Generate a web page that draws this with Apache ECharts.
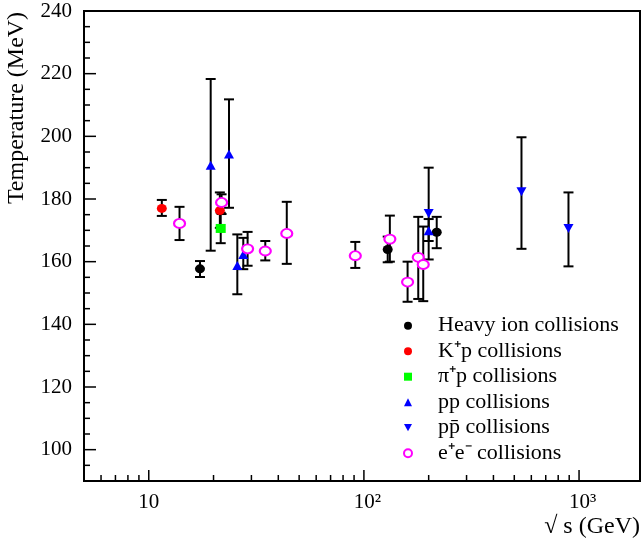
<!DOCTYPE html>
<html>
<head>
<meta charset="utf-8">
<title>Temperature vs sqrt(s)</title>
<script src="https://cdn.jsdelivr.net/npm/echarts@6/dist/echarts.min.js"></script>
<style>
  html, body { margin: 0; padding: 0; background: #fff; }
  #chart { width: 642px; height: 541px; }
</style>
</head>
<body>
<div id="chart"></div>
<script>
// sqrt(s) in GeV, T in MeV, lo/hi = ends of the error bar
var heavyIonS = [17.3, 129, 218]
var heavyIonT = [157.7, 163.9, 169.4]
var heavyIonLo = [155.1, 159.8, 164.3]
var heavyIonHi = [160.2, 168.0, 174.3]

var kpS = [11.5, 21.4]
var kpT = [177.0, 176.3]
var kpLo = [174.6, 170.8]
var kpHi = [179.7, 182.1]

var pipS = [21.6]
var pipT = [170.6]
var pipLo = [165.9]
var pipHi = [175.6]

var ppS = [19.4, 23.6, 25.8, 27.5, 200]
var ppT = [190.8, 194.4, 158.8, 162.3, 169.9]
var ppLo = [163.5, 177.2, 149.6, 157.6, 166.6]
var ppHi = [218.3, 211.8, 168.7, 167.6, 173.6]

var ppbarS = [200, 540, 893]
var ppbarT = [175.4, 182.3, 170.6]
var ppbarLo = [160.7, 164.1, 158.5]
var ppbarHi = [190.0, 199.7, 182.1]

var eeS = [13.9, 21.8, 28.8, 34.8, 43.8, 91.2, 132, 159.6, 178.9, 188.7]
var eeT = [172.2, 178.9, 164.1, 163.4, 169.0, 161.9, 167.2, 153.5, 161.4, 159.1]
var eeLo = [166.9, 175.2, 158.7, 160.4, 159.3, 158.0, 160.0, 147.2, 148.1, 147.4]
var eeHi = [177.5, 181.5, 169.5, 166.6, 179.1, 166.3, 174.7, 160.0, 174.3, 171.2]

var xMin = 5, xMax = 1920
var yMin = 90, yMax = 240
var xMajorTicks = [10, 100, 1000]
var xTickLabels = ['10', '10²', '10³']
var xMinorTicks = [6, 7, 8, 9, 20, 30, 40, 50, 60, 70, 80, 90, 200, 300, 400, 500, 600, 700, 800, 900]
var yMajorTicks = [100, 120, 140, 160, 180, 200, 220, 240]
var yMinorTicks = [95, 105, 110, 115, 125, 130, 135, 145, 150, 155, 165, 170, 175, 185, 190, 195,
  205, 210, 215, 225, 230, 235]

var FONT = 'Liberation Serif'

var groups = [
  { name: 'Heavy ion collisions', s: heavyIonS, t: heavyIonT, lo: heavyIonLo, hi: heavyIonHi,
    symbol: 'circle', size: [10, 9], color: '#000000' },
  { name: 'K⁺p collisions', s: kpS, t: kpT, lo: kpLo, hi: kpHi,
    symbol: 'circle', size: [10, 9], color: '#ff0000' },
  { name: 'π⁺p collisions', s: pipS, t: pipT, lo: pipLo, hi: pipHi,
    symbol: 'rect', size: [10, 9], color: '#00ff00' },
  { name: 'pp collisions', s: ppS, t: ppT, lo: ppLo, hi: ppHi,
    symbol: 'triangle', size: [10, 9], color: '#0000ff' },
  { name: 'pp\u0304 collisions', s: ppbarS, t: ppbarT, lo: ppbarLo, hi: ppbarHi,
    symbol: 'path://M0,0 L10,0 L5,9 Z', size: [10, 9], color: '#0000ff' },
  { name: 'e⁺e⁻ collisions', s: eeS, t: eeT, lo: eeLo, hi: eeHi,
    symbol: 'emptyCircle', size: [11, 9], color: '#ff00ff' }
]

function errorBarItem (params, api) {
  var x = api.value(0)
  var lo = api.coord([x, api.value(1)])
  var hi = api.coord([x, api.value(2)])
  var w = 5
  var st = { stroke: '#000', lineWidth: 2 }
  return {
    type: 'group',
    children: [
      { type: 'line', shape: { x1: lo[0], y1: lo[1], x2: hi[0], y2: hi[1] }, style: st },
      { type: 'line', shape: { x1: lo[0] - w, y1: lo[1], x2: lo[0] + w, y2: lo[1] }, style: st },
      { type: 'line', shape: { x1: hi[0] - w, y1: hi[1], x2: hi[0] + w, y2: hi[1] }, style: st }
    ]
  }
}

// inward ticks drawn through the axis scales
function tickSeries (data, len, vertical) {
  return {
    type: 'custom',
    silent: true,
    z: 5,
    data: data,
    renderItem: function (params, api) {
      var p = api.coord([api.value(0), api.value(1)])
      var shape = vertical
        ? { x1: p[0], y1: p[1], x2: p[0], y2: p[1] - len }
        : { x1: p[0], y1: p[1], x2: p[0] + len, y2: p[1] }
      return { type: 'line', shape: shape, style: { stroke: '#000', lineWidth: 1.5 } }
    }
  }
}

var series = []
var errData = []
groups.forEach(function (g) {
  g.s.forEach(function (s, i) { errData.push([s, g.lo[i], g.hi[i]]) })
})
series.push({ type: 'custom', name: 'errors', silent: true, z: 1, data: errData, renderItem: errorBarItem })

groups.forEach(function (g) {
  series.push({
    type: 'scatter',
    name: g.name,
    z: 3,
    symbol: g.symbol,
    symbolSize: g.size,
    itemStyle: { color: g.color, borderWidth: g.symbol === 'emptyCircle' ? 2 : 0, opacity: 1 },
    data: g.s.map(function (s, i) { return [s, g.t[i]] })
  })
})

series.push(tickSeries(xMajorTicks.map(function (v) { return [v, yMin] }), 11, true))
series.push(tickSeries(xMinorTicks.map(function (v) { return [v, yMin] }), 6, true))
series.push(tickSeries(yMajorTicks.map(function (v) { return [xMin, v] }), 12, false))
series.push(tickSeries(yMinorTicks.map(function (v) { return [xMin, v] }), 6, false))

var chart = echarts.init(document.getElementById('chart'))
chart.setOption({
  animation: false,
  backgroundColor: '#fff',
  grid: { left: 84, right: 2, top: 11, bottom: 60, show: true, borderColor: '#000', borderWidth: 2 },
  xAxis: {
    type: 'log',
    logBase: 10,
    min: xMin,
    max: xMax,
    axisLine: { show: false },
    axisTick: { show: false },
    splitLine: { show: false },
    axisLabel: {
      margin: 11,
      fontFamily: FONT,
      fontSize: 21,
      color: '#000',
      showMinLabel: false,
      showMaxLabel: false,
      formatter: function (v) {
        var l = Math.log10(v)
        var p = Math.round(l)
        var i = xMajorTicks.indexOf(Math.pow(10, p))
        if (Math.abs(l - p) > 1e-6 || i < 0) return ''
        // pad on the left so that "10" itself sits centred on the tick
        return i === 0 ? xTickLabels[i] : '{pad| }' + xTickLabels[i]
      },
      rich: {
        pad: { width: 7, fontSize: 14, fontFamily: FONT }
      }
    }
  },
  yAxis: {
    type: 'value',
    min: yMin,
    max: yMax,
    interval: 10,
    axisLine: { show: false },
    axisTick: { show: false },
    splitLine: { show: false },
    axisLabel: {
      margin: 12,
      fontFamily: FONT,
      fontSize: 21,
      color: '#000',
      formatter: function (v) { return yMajorTicks.indexOf(v) >= 0 ? String(v) : '' }
    }
  },
  legend: {
    orient: 'vertical',
    left: 403,
    top: 314.7,
    padding: 0,
    itemGap: 3.5,
    itemWidth: 8,
    itemHeight: 8,
    selectedMode: false,
    data: groups.map(function (g) { return g.name }),
    formatter: function (name) { return '{gap|}' + name },
    textStyle: {
      fontFamily: FONT,
      fontSize: 22,
      lineHeight: 22,
      color: '#000',
      rich: {
        gap: { width: 21, fontSize: 22, lineHeight: 22 }
      }
    }
  },
  graphic: [
    {
      type: 'text',
      x: 17,
      y: 108,
      rotation: Math.PI / 2,
      style: { text: 'Temperature (MeV)', font: '24px "Liberation Serif"', fill: '#000', align: 'center', verticalAlign: 'middle' }
    },
    {
      type: 'text',
      x: 640,
      y: 527,
      style: { text: '√ s (GeV)', font: '24px "Liberation Serif"', fill: '#000', align: 'right', verticalAlign: 'middle' }
    }
  ],
  series: series
})
</script>
</body>
</html>
